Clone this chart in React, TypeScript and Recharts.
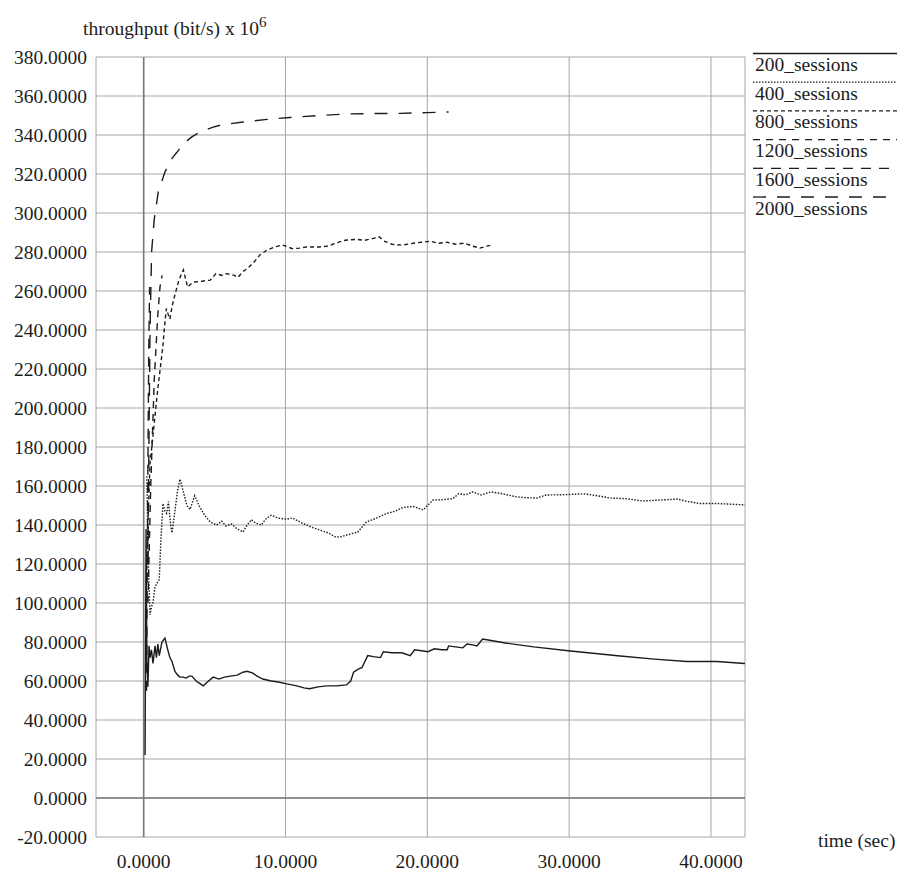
import { LineChart, Line, XAxis, YAxis, CartesianGrid, ReferenceLine } from 'recharts';

const FONT = '"Liberation Serif", "Times New Roman", serif';
const INK = '#1c1c1c';
const GRID = '#a6a6a6';

// axis ticks
const xTicks = [0, 10, 20, 30, 40];
const yTicks = [-20, 0, 20, 40, 60, 80, 100, 120, 140, 160, 180, 200, 220, 240, 260, 280, 300, 320, 340, 360, 380];

type Pt = [number, number];

// [time (sec), throughput (bit/s x 10^6)]
const s200: Pt[] = [
  [0.1, 22], [0.17, 138], [0.23, 70], [0.3, 57], [0.38, 78], [0.45, 72], [0.55, 76], [0.66, 69],
  [0.8, 78], [0.9, 72], [1.0, 79], [1.1, 73], [1.29, 80], [1.5, 82], [1.7, 76], [1.85, 72],
  [2.0, 70], [2.2, 65], [2.4, 63], [2.56, 62], [2.77, 62], [3.0, 61.5], [3.2, 62.5], [3.4, 62.5],
  [3.7, 60], [4.0, 58.5], [4.2, 57.5], [4.5, 59.5], [4.9, 62], [5.3, 61], [5.7, 62], [6.1, 62.5],
  [6.6, 63], [7.0, 64.5], [7.3, 65], [7.7, 64], [8.0, 62.5], [8.4, 61], [9.0, 60], [9.5, 59.5],
  [10.1, 58.5], [10.8, 57.5], [11.3, 56.5], [11.7, 56], [12.3, 57], [12.9, 57.5], [13.6, 57.5],
  [14.3, 58], [14.6, 60], [14.8, 64.5], [15.1, 66], [15.4, 67], [15.6, 70], [15.8, 73], [16.2, 72.5],
  [16.7, 72], [16.9, 75], [17.5, 74.5], [18.2, 74.5], [18.8, 73], [19.1, 76], [19.6, 75.5],
  [20.05, 75], [20.5, 76.5], [21.0, 76], [21.4, 76], [21.5, 78], [22.0, 77.5], [22.5, 77],
  [22.8, 79], [23.2, 78.5], [23.5, 78], [23.9, 81.5], [24.3, 81], [25.5, 79.5], [27.5, 77.5],
  [30.1, 75.4], [33.6, 72.8], [36.0, 71.2], [38.3, 70], [40.4, 70], [42.4, 69],
];

const s400: Pt[] = [
  [0.22, 165], [0.28, 140], [0.35, 115], [0.45, 94], [0.55, 98], [0.65, 100], [0.8, 108], [0.92, 110],
  [1.1, 112], [1.2, 130], [1.36, 151], [1.5, 147], [1.62, 146], [1.75, 152], [1.9, 140], [2.0, 136],
  [2.2, 147], [2.4, 158], [2.56, 163.5], [2.8, 157], [3.05, 150], [3.27, 148], [3.6, 155], [3.9, 150],
  [4.3, 145], [4.7, 141.5], [5.15, 140], [5.5, 142], [5.8, 139.5], [6.2, 140.5], [6.6, 138], [7.0, 136.4],
  [7.3, 140], [7.6, 142.7], [7.9, 141], [8.3, 140], [8.6, 143], [9.0, 145], [9.5, 143.5], [10.1, 143],
  [10.5, 143.6], [10.9, 142], [11.25, 140.7], [11.8, 139], [12.4, 137.4], [13.0, 136], [13.5, 134],
  [13.8, 133.8], [14.4, 135], [15.1, 136.4], [15.7, 141.5], [16.4, 143.5], [17.1, 145.8], [17.7, 147],
  [18.3, 149], [19.0, 149.5], [19.7, 147.7], [20.4, 152.8], [21.1, 153], [21.8, 153.5], [22.2, 156],
  [22.7, 155.5], [23.2, 157], [23.8, 155.4], [24.5, 157], [25.3, 156], [26.3, 154.4], [27.0, 154],
  [27.7, 153.8], [28.4, 155.4], [29.5, 155.5], [31.0, 156], [32.0, 155], [32.9, 153.8], [34.0, 153.5],
  [35.2, 152.3], [36.4, 152.8], [37.6, 153.3], [38.4, 152], [39.2, 151], [40.5, 151], [42.4, 150.3],
];

const s800: Pt[] = [
  [0.2, 110], [0.3, 140], [0.45, 172], [0.56, 179], [0.8, 196], [1.0, 210], [1.2, 222], [1.36, 232],
  [1.45, 240], [1.6, 251], [1.73, 248], [1.85, 245.6], [2.0, 252], [2.2, 258], [2.5, 266], [2.8, 270.8],
  [3.1, 262], [3.4, 264], [3.6, 264.6], [4.1, 265], [4.7, 265.6], [5.1, 268.9], [5.5, 268], [5.85, 268.9],
  [6.4, 268], [6.65, 267], [7.0, 270], [7.3, 271.4], [7.8, 275], [8.2, 278.5], [8.7, 281], [9.2, 282.5],
  [9.8, 283.6], [10.5, 281.7], [11.0, 282], [11.5, 282.6], [12.4, 282.6], [13.0, 283], [13.5, 284.5],
  [14.2, 286], [15.0, 286.5], [15.6, 286], [16.2, 287], [16.6, 287.8], [17.0, 285.5], [17.5, 284],
  [18.2, 283.5], [19.0, 284.5], [19.6, 285], [20.2, 285.5], [20.8, 284.5], [21.4, 285], [22.0, 284],
  [22.6, 284.5], [23.2, 283], [23.7, 282], [24.2, 283], [24.5, 283.5],
];

const s1200: Pt[] = [[0.3, 100], [0.5, 160], [0.75, 215], [1.0, 248], [1.15, 262], [1.3, 268]];

const s1600: Pt[] = [[0.2, 55], [0.28, 150], [0.36, 230], [0.42, 262]];

const s2000: Pt[] = [
  [0.3, 120], [0.37, 180], [0.45, 240], [0.56, 280], [0.75, 297], [1.03, 310.8], [1.5, 321], [2.0, 328],
  [2.33, 331], [2.8, 335.5], [3.4, 339], [3.97, 341.5], [4.9, 344], [5.4, 345], [7.0, 346.7], [8.7, 348],
  [10.3, 349], [12.4, 350], [14.3, 350.8], [16.2, 351], [18.1, 351.1], [20.0, 351.5], [21.5, 351.8],
];

const names = ['200_sessions', '400_sessions', '800_sessions', '1200_sessions', '1600_sessions', '2000_sessions'];
const dashes = ['', '1.5 1.5', '4 3', '7 6', '10 8', '13 11'];

const series = [s200, s400, s800, s1200, s1600, s2000].map((pts, i) => ({
  name: names[i],
  dash: dashes[i],
  data: pts.map(([t, v]) => ({ t, v })),
}));

const textStyle = { fontFamily: FONT, fontSize: 19.5, fill: INK };

function SessionLegend() {
  return (
    <g>
      {series.map((s, i) => {
        const y = 53.5 + i * 28.7;
        return (
          <g key={s.name}>
            <line x1={753} x2={897} y1={y} y2={y} stroke={INK} strokeWidth={1.3} strokeDasharray={s.dash || undefined} />
            <text x={755} y={y + 17.5} {...textStyle}>{s.name}</text>
          </g>
        );
      })}
    </g>
  );
}

export default function App() {
  return (
    <div style={{ position: 'absolute', left: 0, top: 0, width: 901, height: 871, background: '#fff' }}>
      <LineChart width={901} height={871} margin={{ top: 57, right: 156, bottom: 0, left: 0 }}>
        <CartesianGrid stroke={GRID} strokeWidth={1} />
        <XAxis
          type="number"
          dataKey="t"
          domain={[-3.36, 42.4]}
          ticks={xTicks}
          allowDataOverflow
          height={34}
          axisLine={false}
          tickLine={false}
          tickMargin={11}
          interval={0}
          tickFormatter={(v: number) => v.toFixed(4)}
          tick={textStyle}
        />
        <YAxis
          type="number"
          dataKey="v"
          domain={[-20, 380]}
          ticks={yTicks}
          allowDataOverflow
          width={96}
          axisLine={false}
          tickLine={false}
          tickMargin={3}
          interval={0}
          tickFormatter={(v: number) => v.toFixed(4)}
          tick={textStyle}
        />
        <ReferenceLine x={0} stroke="#7a7a7a" strokeWidth={1.6} />
        <ReferenceLine y={0} stroke="#7a7a7a" strokeWidth={1.6} />
        {series.map((s) => (
          <Line
            key={s.name}
            data={s.data}
            dataKey="v"
            name={s.name}
            type="linear"
            stroke={INK}
            strokeWidth={1.4}
            strokeDasharray={s.dash || undefined}
            dot={false}
            activeDot={false}
            isAnimationActive={false}
          />
        ))}
        <text x={83} y={35} {...textStyle}>
          throughput (bit/s) x 10<tspan dy={-8} fontSize={15}>6</tspan>
        </text>
        <text x={818} y={847} {...textStyle}>time (sec)</text>
        <SessionLegend />
      </LineChart>
    </div>
  );
}
